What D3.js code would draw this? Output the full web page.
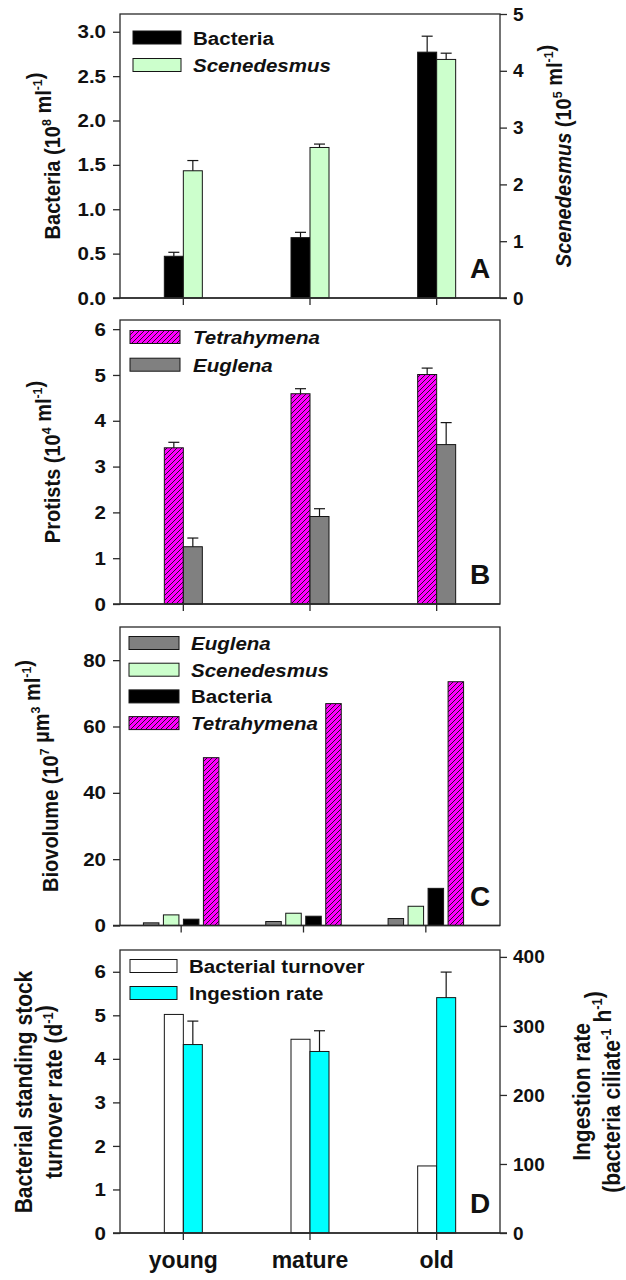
<!DOCTYPE html>
<html><head><meta charset="utf-8">
<script src="https://cdn.jsdelivr.net/npm/d3@7"></script>
<style>
body{margin:0;background:#fff}
text{font-family:"Liberation Sans",Arial,sans-serif;font-weight:bold;fill:#111}
</style>
</head><body><script>
const categories=["young","mature","old"];
// Panel A (counts)
const bacteriaCount=[0.47,0.68,2.77];
const bacteriaCountErr=[0.045,0.06,0.18];
const scenedesmusCount=[2.24,2.65,4.20];
const scenedesmusCountErr=[0.18,0.06,0.11];
// Panel B (protists)
const tetrahymenaCount=[3.41,4.59,5.01];
const tetrahymenaCountErr=[0.12,0.11,0.14];
const euglenaCount=[1.25,1.91,3.48];
const euglenaCountErr=[0.19,0.17,0.48];
// Panel C (biovolume)
const euglenaBiovol=[0.8,1.2,2.1];
const scenedesmusBiovol=[3.2,3.7,5.8];
const bacteriaBiovol=[1.9,2.8,11.2];
const tetrahymenaBiovol=[50.6,66.9,73.5];
// Panel D
const turnoverRate=[5.02,4.45,1.54];
const ingestionRate=[273,263,341];
const ingestionRateErr=[34,30,37];
// tick labels
const ticksA=[0,0.5,1,1.5,2,2.5,3];
const ticksARight=[0,1,2,3,4,5];
const ticksB=[0,1,2,3,4,5,6];
const ticksC=[0,20,40,60,80];
const ticksD=[0,1,2,3,4,5,6];
const ticksDRight=[0,100,200,300,400];

const W=626,H=1280,L=120,R=500,AX="#2a2a2a";
const COL={bact:"#000000",scen:"#ccffcc",eug:"#808080",tetra:"url(#hatch)",white:"#ffffff",cyan:"#00ffff"};
const svg=d3.select("body").append("svg").attr("width",W).attr("height",H);
const defs=svg.append("defs");
const P=5;
const pat=defs.append("pattern").attr("id","hatch").attr("patternUnits","userSpaceOnUse")
  .attr("width",P).attr("height",P);
pat.append("rect").attr("width",P).attr("height",P).attr("fill","#ff00ff");
pat.append("path").attr("d",`M0,${P}L${P},0M-1,1L1,-1M${P-1},${P+1}L${P+1},${P-1}`).attr("stroke","#111").attr("stroke-width",0.9);

const TICK=19, SX=1.08, SXV=1.1;
function richText(sel,segs,size){
  segs.forEach(s=>{
    if(s.sup){
      sel.append("tspan").attr("dy",-size*0.4).style("font-size",(size*0.62)+"px").text(s.t);
      sel.append("tspan").attr("dy",size*0.4).text("");
    } else {
      const t=sel.append("tspan").text(s.t);
      if(s.it) t.style("font-style","italic");
    }
  });
}
function vLabel(x,y,segs,size){
  const t=svg.append("text").attr("transform",`translate(${x},${y}) scale(${SXV},1) rotate(-90)`)
    .attr("text-anchor","middle").attr("dy","0.35em").style("font-size",size+"px");
  richText(t,segs,size);
}

function panel(o){
  const g=svg.append("g");
  const x=d3.scaleBand().domain(categories).range(o.xRange).padding(0);
  const cx=c=>x(c)+x.bandwidth()/2;
  const yL=d3.scaleLinear().domain(o.yDomain).range([o.bottom,o.top]);
  const yR=o.rDomain?d3.scaleLinear().domain(o.rDomain).range([o.bottom,o.top]):null;
  o.series.forEach(s=>{
    const y=s.right?yR:yL;
    g.append("g").selectAll("rect").data(categories).join("rect")
      .attr("x",c=>cx(c)+s.off).attr("width",o.barW)
      .attr("y",(c,i)=>y(s.values[i])).attr("height",(c,i)=>o.bottom-y(s.values[i]))
      .attr("fill",s.fill).attr("stroke","#151515").attr("stroke-width",1);
    if(s.err){
      const eg=g.append("g").attr("stroke","#151515").attr("stroke-width",1.2);
      eg.selectAll("line.v").data(categories).join("line").attr("class","v")
        .attr("x1",c=>cx(c)+s.off+o.barW/2).attr("x2",c=>cx(c)+s.off+o.barW/2)
        .attr("y1",(c,i)=>y(s.values[i])).attr("y2",(c,i)=>y(s.values[i]+s.err[i]));
      eg.selectAll("line.c").data(categories).join("line").attr("class","c")
        .attr("x1",c=>cx(c)+s.off+o.barW/2-5.5).attr("x2",c=>cx(c)+s.off+o.barW/2+5.5)
        .attr("y1",(c,i)=>y(s.values[i]+s.err[i])).attr("y2",(c,i)=>y(s.values[i]+s.err[i]));
    }
  });
  // frame
  g.append("rect").attr("x",L).attr("y",o.top).attr("width",R-L).attr("height",o.bottom-o.top)
    .attr("fill","none").attr("stroke",AX).attr("stroke-width",1.3);
  g.append("line").attr("x1",L-7).attr("x2",o.rDomain?R+7:R).attr("y1",o.bottom).attr("y2",o.bottom)
    .attr("stroke",AX).attr("stroke-width",1.3);
  // left axis
  const al=g.append("g").attr("transform",`translate(${L},0)`)
    .call(d3.axisLeft(yL).tickValues(o.ticks).tickSize(7).tickSizeOuter(0).tickPadding(7).tickFormat(o.fmt));
  al.select(".domain").remove();
  al.selectAll("line").attr("stroke",AX).attr("stroke-width",1.3);
  al.selectAll("text").style("font-size",TICK+"px").attr("font-family",null).attr("fill","#111")
    .attr("x",null).attr("transform",`translate(-14,0) scale(${SX},1)`);
  if(yR){
    const ar=g.append("g").attr("transform",`translate(${R},0)`)
      .call(d3.axisRight(yR).tickValues(o.rTicks).tickSize(7).tickSizeOuter(0).tickPadding(6).tickFormat(d3.format("d")));
    ar.select(".domain").remove();
    ar.selectAll("line").attr("stroke",AX).attr("stroke-width",1.3);
    ar.selectAll("text").style("font-size",TICK+"px").attr("font-family",null).attr("fill","#111");
  }
  // x ticks
  const ab=g.append("g").attr("transform",`translate(0,${o.bottom})`)
    .call(d3.axisBottom(x).tickSize(7).tickSizeOuter(0).tickPadding(12).tickFormat(o.xLabels?(d=>d):""));
  ab.select(".domain").remove();
  ab.selectAll("line").attr("stroke",AX).attr("stroke-width",1.3);
  ab.selectAll("text").style("font-size","23px").attr("font-family",null).attr("fill","#111");
  // legend
  o.legend.forEach((it,i)=>{
    const cy=o.legY+i*o.legStep;
    g.append("rect").attr("x",o.legX).attr("y",cy-6.5).attr("width",o.legW).attr("height",13)
      .attr("fill",it.fill).attr("stroke","#151515").attr("stroke-width",1);
    g.append("text").attr("transform",`translate(${o.legTX},${cy+7}) scale(${SX},1)`).style("font-size","19px")
      .style("font-style",it.it?"italic":"normal").text(it.label);
  });
  // panel letter
  g.append("text").attr("x",480).attr("y",o.bottom-20).attr("text-anchor","middle")
    .style("font-size","28px").text(o.letter);
}

panel({top:14,bottom:298,xRange:[L,R],yDomain:[0,3.2],ticks:ticksA,fmt:d3.format(".1f"),
  rDomain:[0,5],rTicks:ticksARight,barW:19,
  series:[{values:bacteriaCount,err:bacteriaCountErr,fill:COL.bact,off:-19},
          {values:scenedesmusCount,err:scenedesmusCountErr,fill:COL.scen,off:0,right:true}],
  legend:[{label:"Bacteria",fill:COL.bact},{label:"Scenedesmus",fill:COL.scen,it:true}],
  legX:133,legW:48,legTX:193,legY:37.5,legStep:27.5,letter:"A"});

panel({top:320,bottom:604,xRange:[L,R],yDomain:[0,6.2],ticks:ticksB,fmt:d3.format("d"),barW:19,
  series:[{values:tetrahymenaCount,err:tetrahymenaCountErr,fill:COL.tetra,off:-19},
          {values:euglenaCount,err:euglenaCountErr,fill:COL.eug,off:0}],
  legend:[{label:"Tetrahymena",fill:COL.tetra,it:true},{label:"Euglena",fill:COL.eug,it:true}],
  legX:130,legW:50,legTX:193,legY:337,legStep:27.7,letter:"B"});

panel({top:627,bottom:925.5,xRange:[L,487],yDomain:[0,90],ticks:ticksC,fmt:d3.format("d"),barW:15.5,
  series:[{values:euglenaBiovol,fill:COL.eug,off:-37.75},
          {values:scenedesmusBiovol,fill:COL.scen,off:-17.75},
          {values:bacteriaBiovol,fill:COL.bact,off:2.25},
          {values:tetrahymenaBiovol,fill:COL.tetra,off:22.25}],
  legend:[{label:"Euglena",fill:COL.eug,it:true},{label:"Scenedesmus",fill:COL.scen,it:true},
          {label:"Bacteria",fill:COL.bact},{label:"Tetrahymena",fill:COL.tetra,it:true}],
  legX:129,legW:50,legTX:191,legY:643,legStep:26.7,letter:"C"});

panel({top:950,bottom:1233,xRange:[L,R],yDomain:[0,6.5],ticks:ticksD,fmt:d3.format("d"),
  rDomain:[0,410],rTicks:ticksDRight,barW:19,xLabels:true,
  series:[{values:turnoverRate,fill:COL.white,off:-19},
          {values:ingestionRate,err:ingestionRateErr,fill:COL.cyan,off:0,right:true}],
  legend:[{label:"Bacterial turnover",fill:COL.white},{label:"Ingestion rate",fill:COL.cyan}],
  legX:130,legW:47,legTX:189,legY:966,legStep:27,letter:"D"});

// axis titles
vLabel(52,156,[{t:"Bacteria (10"},{t:"8",sup:true},{t:" ml"},{t:"-1",sup:true},{t:")"}],20);
vLabel(563,156,[{t:"Scenedesmus",it:true},{t:" (10"},{t:"5",sup:true},{t:" ml"},{t:"-1",sup:true},{t:")"}],20);
vLabel(52,462,[{t:"Protists (10"},{t:"4",sup:true},{t:" ml"},{t:"-1",sup:true},{t:")"}],20);
vLabel(50,776,[{t:"Biovolume (10"},{t:"7",sup:true},{t:" µm"},{t:"3",sup:true},{t:" ml"},{t:"-1",sup:true},{t:")"}],20);
vLabel(24,1092,[{t:"Bacterial standing stock"}],21);
vLabel(54,1092,[{t:"turnover rate (d"},{t:"-1",sup:true},{t:")"}],21);
vLabel(582,1092,[{t:"Ingestion rate"}],21);
vLabel(612,1092,[{t:"(bacteria ciliate"},{t:"-1",sup:true},{t:" h"},{t:"-1",sup:true},{t:")"}],21);
</script></body></html>
